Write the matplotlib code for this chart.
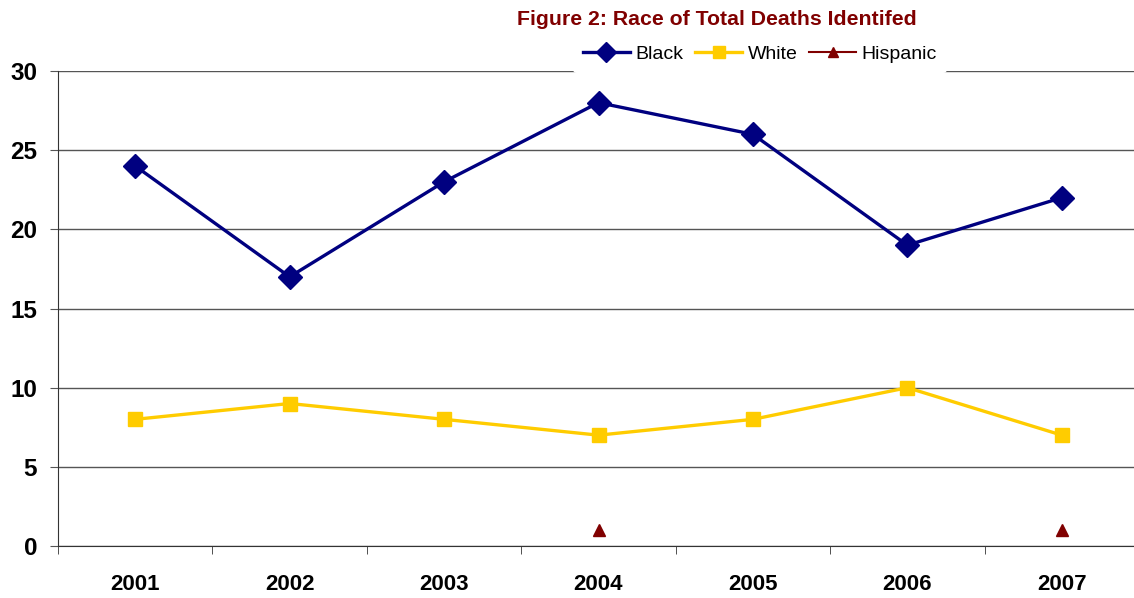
import numpy as np
import matplotlib
matplotlib.use("Agg")
import matplotlib.pyplot as plt

# chart data
years = ["2001", "2002", "2003", "2004", "2005", "2006", "2007"]
black = [24, 17, 23, 28, 26, 19, 22]
white = [8, 9, 8, 7, 8, 10, 7]
hispanic = [np.nan, np.nan, np.nan, 1, np.nan, np.nan, 1]
y_ticks = [0, 5, 10, 15, 20, 25, 30]

plt.rcParams['font.family'] = ['Liberation Sans', 'DejaVu Sans']

fig = plt.figure(figsize=(11.34, 5.98), dpi=100)
ax = fig.add_axes([58 / 1134, 52 / 598, 1081 / 1134, 475 / 598])

x = np.arange(len(years))
ax.plot(x, black, color='#000080', lw=2.4, marker='D', ms=12, label='Black', zorder=4)
ax.plot(x, white, color='#FFCC00', lw=2.4, marker='s', ms=10, label='White', zorder=3)
ax.plot(x, hispanic, color='#800000', lw=1.5, marker='^', ms=9, label='Hispanic', zorder=3)

ax.set_xlim(-0.5, len(years) - 0.5)
ax.set_ylim(0, 30)
ax.set_yticks(y_ticks)
ax.set_yticklabels([str(v) for v in y_ticks], fontsize=17.5, fontweight='bold')
ax.set_xticks(x)
ax.set_xticklabels(years, fontsize=16, fontweight='bold')
ax.set_xticks(np.arange(len(years) + 1) - 0.5, minor=True)
ax.tick_params(axis='x', which='major', length=0, pad=20)
ax.tick_params(axis='x', which='minor', length=6, direction='out', color='#333333')
ax.tick_params(axis='y', length=6, direction='out', color='#555555', pad=9)

ax.grid(axis='y', color='#555555', lw=1.0)
ax.set_axisbelow(True)
for s in ['top', 'right']:
    ax.spines[s].set_visible(False)
ax.spines['left'].set_color('#333333')
ax.spines['bottom'].set_color('#333333')

fig.text(0.632, 0.968, "Figure 2: Race of Total Deaths Identifed", color='#800000',
         fontsize=15.3, fontweight='bold', ha='center', va='center')

leg = ax.legend(loc='center', bbox_to_anchor=(760 / 1134, 1 - 54 / 598),
                bbox_transform=fig.transFigure, ncol=3, frameon=True,
                fontsize=14, handlelength=2.4, handletextpad=0.3,
                columnspacing=0.6, borderpad=0.5, markerscale=0.85)
leg.get_frame().set_facecolor('white')
leg.get_frame().set_edgecolor('none')
leg.get_frame().set_alpha(1)

plt.savefig("out.png", dpi=100)
